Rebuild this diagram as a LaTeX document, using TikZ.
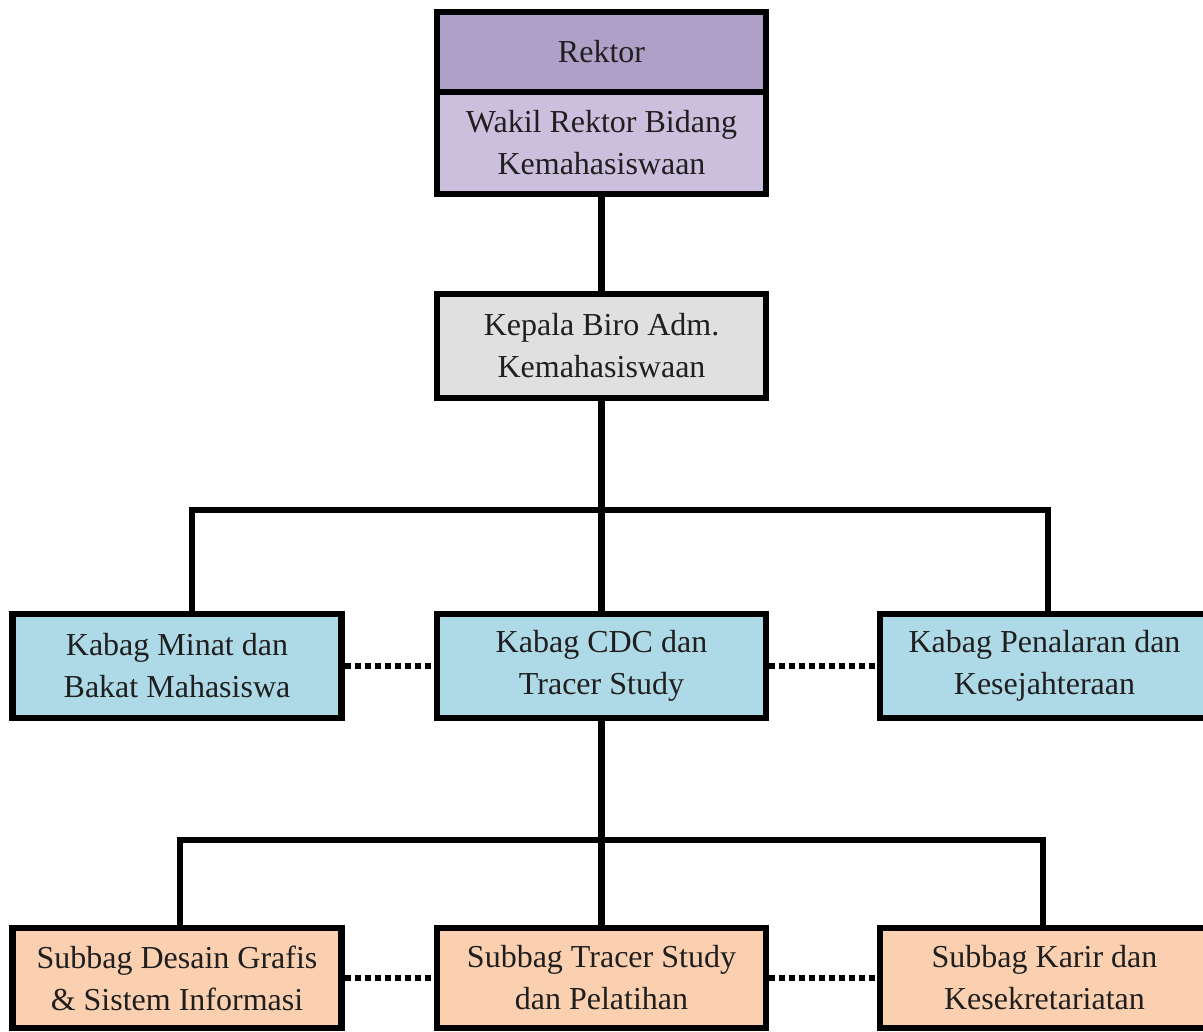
\documentclass[tikz,border=0pt]{standalone}
\usepackage{fontspec}
\setmainfont{Liberation Serif}
\definecolor{rekC}{HTML}{AFA0C8}
\definecolor{wakC}{HTML}{CBBFDD}
\definecolor{kepC}{HTML}{E0E0E0}
\definecolor{kabC}{HTML}{AED9E6}
\definecolor{subC}{HTML}{FBD0B0}
\tikzset{
  box/.style={draw=black, line width=6.5pt, rectangle, minimum width=329pt, inner sep=0pt, align=center, font=\fontsize{32}{42}\selectfont, text=black!88},
  conn/.style={line width=6.5pt, draw=black},
  dotconn/.style={line width=6.5pt, draw=black, dash pattern=on 6pt off 4pt},
}
\begin{document}
\begin{tikzpicture}[x=1pt,y=-1pt]
\useasboundingbox (0,0) rectangle (1203,1032);
\fill[white] (0,0) rectangle (1203,1032);
\node[box, fill=rekC, minimum height=80pt] (rektor) at (601.5,52) {Rektor};
\node[box, fill=wakC, minimum height=102pt] (wakil) at (601.5,143) {Wakil Rektor Bidang\\Kemahasiswaan};
\node[box, fill=kepC, minimum height=104pt] (kepala) at (601.5,346) {Kepala Biro Adm.\\Kemahasiswaan};
\node[box, fill=kabC, minimum height=104pt] (minat) at (177,666) {Kabag Minat dan\\Bakat Mahasiswa};
\node[box, fill=kabC, minimum height=104pt] (cdc) at (601.5,666) {Kabag CDC dan\\Tracer Study};
\node[box, fill=kabC, minimum height=104pt] (nalar) at (1044.5,666) {Kabag Penalaran dan\\Kesejahteraan};
\node[box, fill=subC, minimum height=100pt] (desain) at (177,978) {Subbag Desain Grafis\\\& Sistem Informasi};
\node[box, fill=subC, minimum height=100pt] (tracer) at (601.5,978) {Subbag Tracer Study\\dan Pelatihan};
\node[box, fill=subC, minimum height=100pt] (karir) at (1044.5,978) {Subbag Karir dan\\Kesekretariatan};
\coordinate (barA) at (601.5,510);
\coordinate (barB) at (601.5,840);
\coordinate (minTop) at (192,0);
\coordinate (nalTop) at (1048,0);
\coordinate (desTop) at (180,0);
\coordinate (karTop) at (1043,0);
\draw[conn] (wakil.south) -- (kepala.north);
\draw[conn] (kepala.south) -- (cdc.north);
\draw[conn, line cap=rect] (minTop |- minat.north) -- (minTop |- barA) -- (nalTop |- barA) -- (nalTop |- nalar.north);
\draw[conn] (cdc.south) -- (tracer.north);
\draw[conn, line cap=rect] (desTop |- desain.north) -- (desTop |- barB) -- (karTop |- barB) -- (karTop |- karir.north);
\draw[dotconn] (minat.east) -- (cdc.west);
\draw[dotconn] (cdc.east) -- (nalar.west);
\draw[dotconn] (desain.east) -- (tracer.west);
\draw[dotconn] (tracer.east) -- (karir.west);
\end{tikzpicture}
\end{document}
